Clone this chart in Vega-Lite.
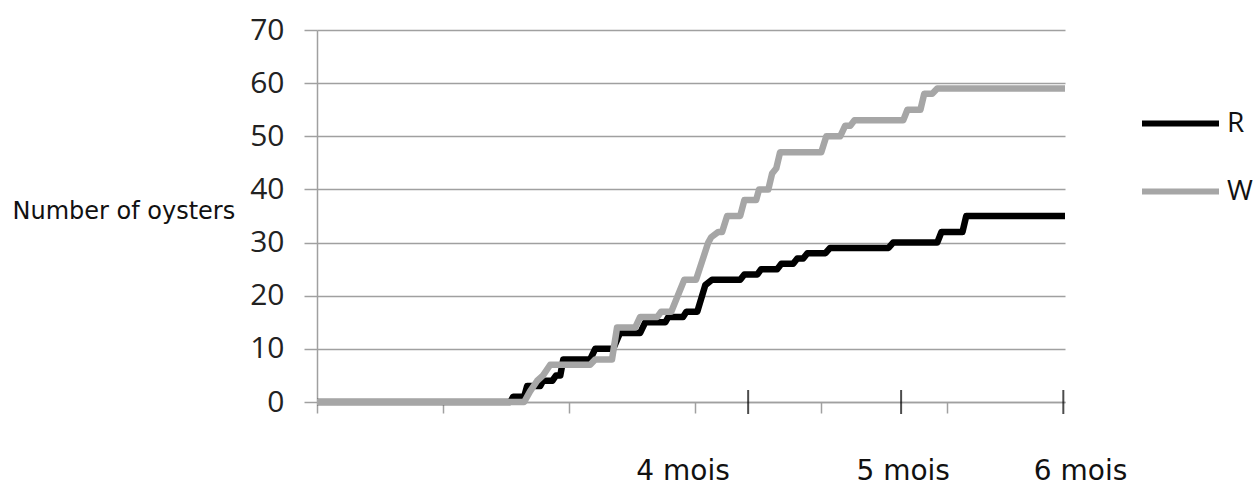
{
  "$schema": "https://vega.github.io/schema/vega-lite/v6.json",
  "width": 748,
  "height": 372,
  "autosize": {"type": "none"},
  "padding": {"left": 317, "top": 30, "right": 194, "bottom": 84},
  "background": "white",
  "config": {"view": {"stroke": null}},
  "datasets": {
    "series": [
      {"s":"R","d":0,"v":0},{"s":"R","d":46,"v":0},{"s":"R","d":46.7,"v":1},{"s":"R","d":49.3,"v":1},{"s":"R","d":50,"v":3},{"s":"R","d":53.1,"v":3},{"s":"R","d":53.8,"v":4},{"s":"R","d":56,"v":4},{"s":"R","d":56.9,"v":5},{"s":"R","d":57.9,"v":5},{"s":"R","d":58.6,"v":8},{"s":"R","d":65,"v":8},{"s":"R","d":66.2,"v":10},{"s":"R","d":70.5,"v":10},{"s":"R","d":72.1,"v":13},{"s":"R","d":76.9,"v":13},{"s":"R","d":78.1,"v":15},{"s":"R","d":82.9,"v":15},{"s":"R","d":83.6,"v":16},{"s":"R","d":87.1,"v":16},{"s":"R","d":87.9,"v":17},{"s":"R","d":90.5,"v":17},{"s":"R","d":92.4,"v":22},{"s":"R","d":94,"v":23},{"s":"R","d":100.7,"v":23},{"s":"R","d":101.7,"v":24},{"s":"R","d":104.8,"v":24},{"s":"R","d":105.7,"v":25},{"s":"R","d":109.5,"v":25},{"s":"R","d":110.5,"v":26},{"s":"R","d":113.3,"v":26},{"s":"R","d":114.3,"v":27},{"s":"R","d":115.7,"v":27},{"s":"R","d":116.7,"v":28},{"s":"R","d":121,"v":28},{"s":"R","d":122.1,"v":29},{"s":"R","d":136,"v":29},{"s":"R","d":137.1,"v":30},{"s":"R","d":147.6,"v":30},{"s":"R","d":148.6,"v":32},{"s":"R","d":153.6,"v":32},{"s":"R","d":154.5,"v":35},{"s":"R","d":178,"v":35},
      {"s":"W","d":0,"v":0},{"s":"W","d":49.3,"v":0},{"s":"W","d":50.7,"v":2},{"s":"W","d":52.4,"v":4},{"s":"W","d":53.8,"v":5},{"s":"W","d":55.5,"v":7},{"s":"W","d":65,"v":7},{"s":"W","d":66.2,"v":8},{"s":"W","d":70.2,"v":8},{"s":"W","d":71.4,"v":14},{"s":"W","d":75.7,"v":14},{"s":"W","d":76.9,"v":16},{"s":"W","d":81,"v":16},{"s":"W","d":81.9,"v":17},{"s":"W","d":84.3,"v":17},{"s":"W","d":87.4,"v":23},{"s":"W","d":90.2,"v":23},{"s":"W","d":93.1,"v":30},{"s":"W","d":93.8,"v":31},{"s":"W","d":95.5,"v":32},{"s":"W","d":96.4,"v":32},{"s":"W","d":97.6,"v":35},{"s":"W","d":100.7,"v":35},{"s":"W","d":101.7,"v":38},{"s":"W","d":104.5,"v":38},{"s":"W","d":105.2,"v":40},{"s":"W","d":107.4,"v":40},{"s":"W","d":108.3,"v":43},{"s":"W","d":109.3,"v":44},{"s":"W","d":110.2,"v":47},{"s":"W","d":120,"v":47},{"s":"W","d":121.2,"v":50},{"s":"W","d":124.5,"v":50},{"s":"W","d":125.7,"v":52},{"s":"W","d":126.9,"v":52},{"s":"W","d":127.9,"v":53},{"s":"W","d":139.5,"v":53},{"s":"W","d":140.5,"v":55},{"s":"W","d":143.6,"v":55},{"s":"W","d":144.5,"v":58},{"s":"W","d":146.4,"v":58},{"s":"W","d":147.6,"v":59},{"s":"W","d":178,"v":59}
    ],
    "marks": [{"d":102.6},{"d":139},{"d":177.6}],
    "labels": [{"t":"4 mois","d":87.1},{"t":"5 mois","d":139.5},{"t":"6 mois","d":181.7}]
  },
  "layer": [
    {
      "data": {"name": "series"},
      "mark": {"type": "line", "strokeWidth": 6.5, "strokeJoin": "round", "strokeCap": "butt"},
      "encoding": {
        "x": {"field": "d", "type": "quantitative", "scale": {"domain": [0, 178], "nice": false, "zero": false},
          "axis": {"title": null, "labels": false, "values": [0, 30, 60, 90, 120, 150], "tickSize": 11, "tickColor": "#a0a0a0", "tickWidth": 1.5, "domainColor": "#a0a0a0", "domainWidth": 1.5, "grid": false}},
        "y": {"field": "v", "type": "quantitative", "scale": {"domain": [0, 70], "nice": false},
          "axis": {"title": "Number of oysters", "titleAngle": 0, "titleAlign": "left", "titleBaseline": "alphabetic", "titleX": -305, "titleY": 188, "titleFont": "DejaVu Sans", "titleFontSize": 24, "titleFontWeight": "normal", "titleColor": "#111",
            "values": [0, 10, 20, 30, 40, 50, 60, 70], "labelFont": "Open Sans", "labelFontSize": 30, "labelColor": "#222", "labelPadding": 20, "tickSize": 13, "tickColor": "#a0a0a0", "tickWidth": 1.5, "domainColor": "#a0a0a0", "domainWidth": 1.5, "grid": true, "gridColor": "#a0a0a0", "gridWidth": 1.5}},
        "color": {"field": "s", "type": "nominal", "scale": {"domain": ["R", "W"], "range": ["#000000", "#a6a6a6"]},
          "legend": {"title": null, "orient": "none", "legendX": 822, "legendY": 52, "symbolType": "stroke", "symbolSize": 5929, "symbolStrokeWidth": 6, "labelFont": "Open Sans", "labelFontSize": 28, "labelColor": "#111", "labelOffset": 5, "rowPadding": 12, "padding": 0}}
      }
    },
    {
      "data": {"name": "marks"},
      "mark": {"type": "tick", "orient": "vertical", "size": 24, "thickness": 2, "color": "#000"},
      "encoding": {
        "x": {"field": "d", "type": "quantitative"},
        "y": {"datum": 0}
      }
    },
    {
      "data": {"name": "labels"},
      "mark": {"type": "text", "font": "DejaVu Sans", "fontSize": 28, "align": "center", "baseline": "alphabetic", "dy": 78, "color": "#111"},
      "encoding": {
        "x": {"field": "d", "type": "quantitative"},
        "y": {"datum": 0},
        "text": {"field": "t"}
      }
    }
  ]
}
